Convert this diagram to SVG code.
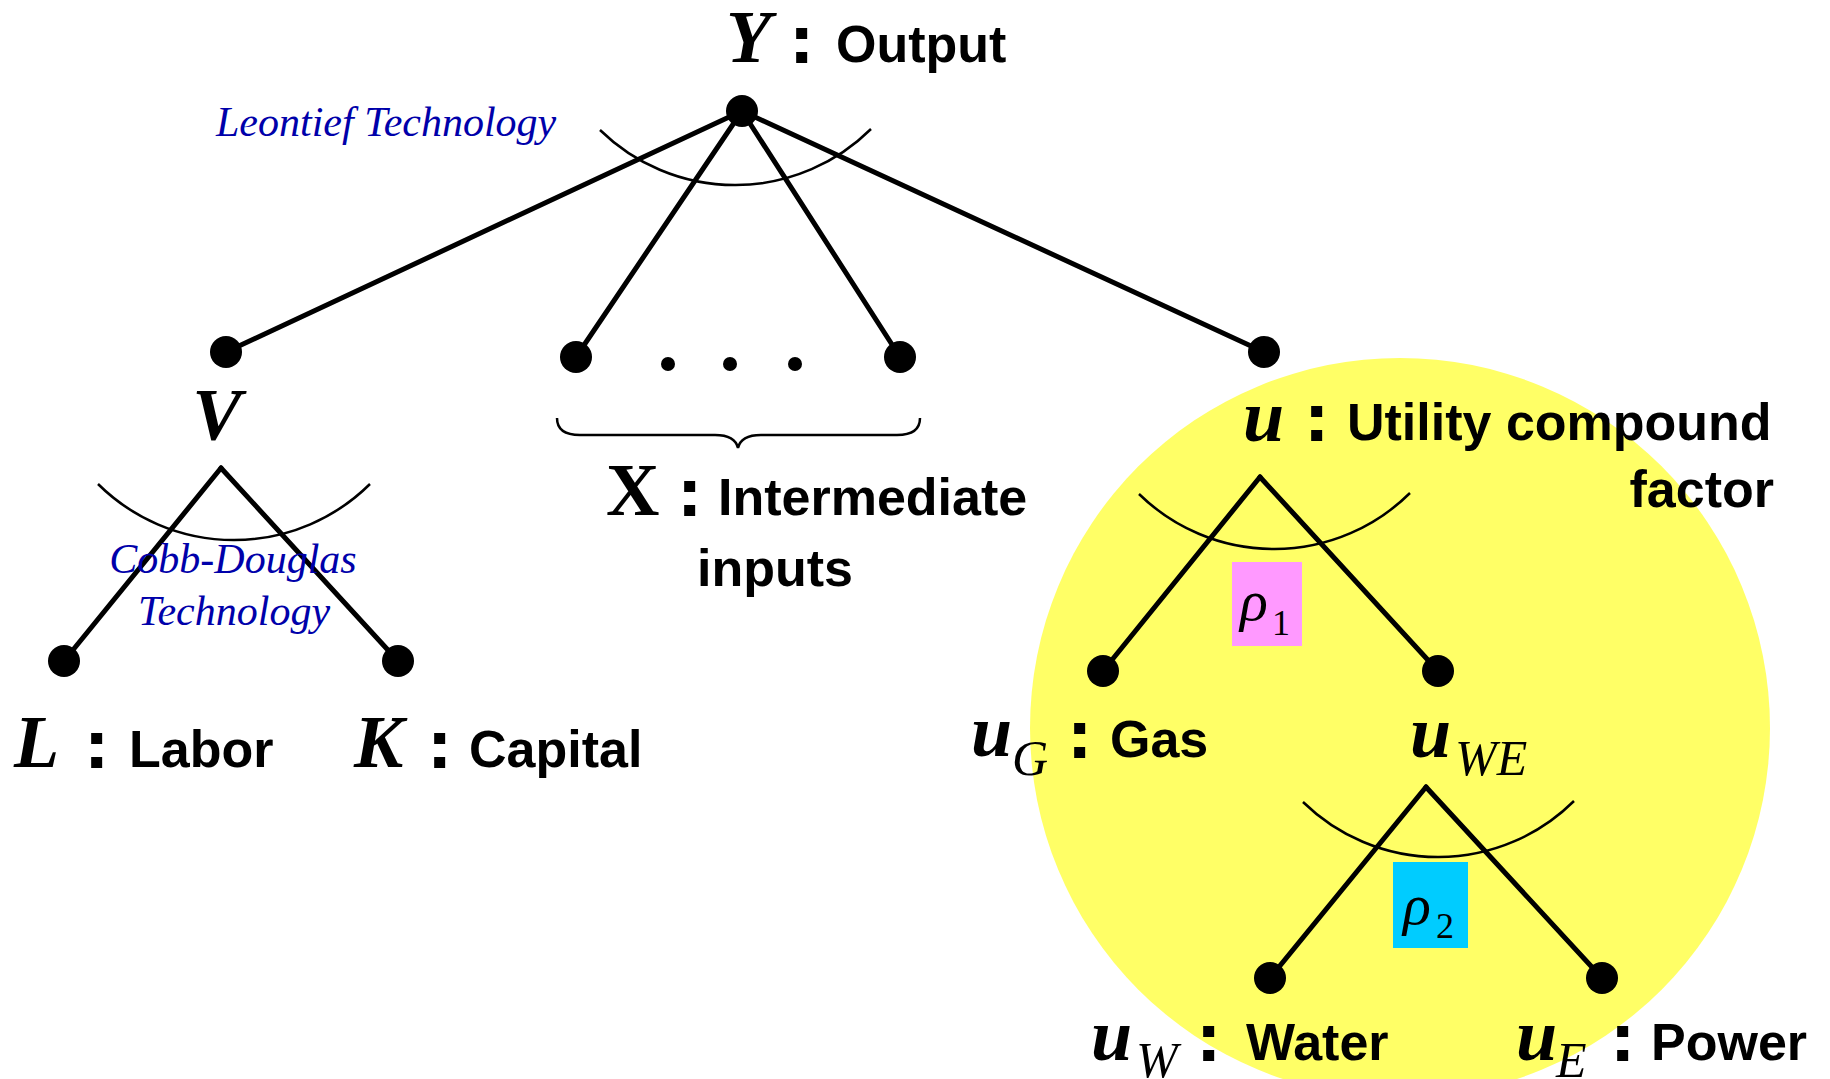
<svg xmlns="http://www.w3.org/2000/svg" width="1830" height="1079" viewBox="0 0 1830 1079">
<style>
.edge{stroke:#000;stroke-width:5;fill:none;stroke-linecap:round}
.arc{stroke:#000;stroke-width:2.5;fill:none}
.dot{fill:#000}
.var{font-family:"Liberation Serif",serif;font-weight:bold;font-style:italic;font-size:74px;fill:#000}
.up{font-family:"Liberation Serif",serif;font-weight:bold;font-size:74px;fill:#000}
.sub{font-family:"Liberation Serif",serif;font-style:italic;font-size:50px;fill:#000}
.lbl{font-family:"Liberation Sans",Arial,sans-serif;font-weight:bold;font-size:52px;fill:#000}
.col{font-family:"Liberation Sans",Arial,sans-serif;font-weight:bold;font-size:64px;fill:#000;stroke:#000;stroke-width:2}
.tech{font-family:"Liberation Serif",serif;font-style:italic;font-size:42px;fill:#0000AA}
.rho{font-family:"Liberation Serif",serif;font-style:italic;font-size:58px;fill:#000}
.idx{font-family:"Liberation Serif",serif;font-size:36px;fill:#000}
</style>
<rect width="1830" height="1079" fill="#fff"/>
<circle id="utility-region" cx="1400" cy="728" r="370" fill="#FFFF66"/>
<g id="connectors">
  <line class="edge" x1="742" y1="111" x2="226" y2="352"/>
  <line class="edge" x1="742" y1="111" x2="576" y2="357"/>
  <line class="edge" x1="742" y1="111" x2="900" y2="357"/>
  <line class="edge" x1="742" y1="111" x2="1264" y2="352"/>
  <line class="edge" x1="221" y1="468" x2="64" y2="661"/>
  <line class="edge" x1="221" y1="468" x2="398" y2="661"/>
  <line class="edge" x1="1260" y1="477" x2="1103" y2="671"/>
  <line class="edge" x1="1260" y1="477" x2="1438" y2="671"/>
  <line class="edge" x1="1426" y1="787" x2="1270" y2="978"/>
  <line class="edge" x1="1426" y1="787" x2="1602" y2="978"/>
  <path class="arc" d="M600 130 A193 193 0 0 0 871 129"/>
  <path class="arc" d="M98 484 A193 193 0 0 0 370 484"/>
  <path class="arc" d="M1139 494 A193 193 0 0 0 1410 493"/>
  <path class="arc" d="M1303 802 A193 193 0 0 0 1574 801"/>
  <path class="arc" stroke-width="2" d="M557 418 Q557 435 580 435 L715 435 Q735 435 738 448 Q741 435 761 435 L897 435 Q920 435 920 418"/>
</g>
<g id="node-Y">
  <circle class="dot" cx="742" cy="111" r="16"/>
  <text class="var" x="726" y="62">Y</text>
  <text class="col" x="791" y="62">:</text>
  <text class="lbl" x="836" y="62">Output</text>
  <text class="tech" x="216" y="136">Leontief Technology</text>
</g>
<g id="node-V">
  <circle class="dot" cx="226" cy="352" r="16"/>
  <text class="var" x="217" y="440" text-anchor="middle">V</text>
  <text class="tech" x="233" y="573" text-anchor="middle">Cobb-Douglas</text>
  <text class="tech" x="234" y="625" text-anchor="middle">Technology</text>
</g>
<g id="node-L">
  <circle class="dot" cx="64" cy="661" r="16"/>
  <text class="var" x="14" y="767">L</text>
  <text class="col" x="86" y="767">:</text>
  <text class="lbl" x="129" y="767">Labor</text>
</g>
<g id="node-K">
  <circle class="dot" cx="398" cy="661" r="16"/>
  <text class="var" x="354" y="767">K</text>
  <text class="col" x="429" y="767">:</text>
  <text class="lbl" x="469" y="767">Capital</text>
</g>
<g id="node-X">
  <circle class="dot" cx="576" cy="357" r="16"/>
  <circle class="dot" cx="900" cy="357" r="16"/>
  <circle class="dot" cx="668" cy="364" r="7"/>
  <circle class="dot" cx="730" cy="364" r="7"/>
  <circle class="dot" cx="795" cy="364" r="7"/>
  <text class="up" x="606" y="515">X</text>
  <text class="col" x="679" y="515">:</text>
  <text class="lbl" x="718" y="515">Intermediate</text>
  <text class="lbl" x="697" y="586">inputs</text>
</g>
<g id="node-u">
  <circle class="dot" cx="1264" cy="352" r="16"/>
  <text class="var" x="1243" y="441">u</text>
  <text class="col" x="1306" y="440">:</text>
  <text class="lbl" x="1347" y="440">Utility compound</text>
  <text class="lbl" x="1774" y="507" text-anchor="end">factor</text>
  <rect x="1232" y="562" width="70" height="84" fill="#FF99FF"/>
  <text class="rho" x="1240" y="620">ρ</text>
  <text class="idx" x="1272" y="635">1</text>
</g>
<g id="node-uG">
  <circle class="dot" cx="1103" cy="671" r="16"/>
  <text class="var" x="971" y="756">u</text>
  <text class="sub" x="1012" y="775">G</text>
  <text class="col" x="1069" y="757">:</text>
  <text class="lbl" x="1110" y="757">Gas</text>
</g>
<g id="node-uWE">
  <circle class="dot" cx="1438" cy="671" r="16"/>
  <text class="var" x="1410" y="757">u</text>
  <text class="sub" x="1455" y="775">WE</text>
  <rect x="1393" y="862" width="75" height="86" fill="#00CCFF"/>
  <text class="rho" x="1403" y="924">ρ</text>
  <text class="idx" x="1436" y="938">2</text>
</g>
<g id="node-uW">
  <circle class="dot" cx="1270" cy="978" r="16"/>
  <text class="var" x="1091" y="1060">u</text>
  <text class="sub" x="1136" y="1077">W</text>
  <text class="col" x="1198" y="1060">:</text>
  <text class="lbl" x="1246" y="1060">Water</text>
</g>
<g id="node-uE">
  <circle class="dot" cx="1602" cy="978" r="16"/>
  <text class="var" x="1516" y="1060">u</text>
  <text class="sub" x="1556" y="1077">E</text>
  <text class="col" x="1612" y="1060">:</text>
  <text class="lbl" x="1651" y="1060">Power</text>
</g>
</svg>
